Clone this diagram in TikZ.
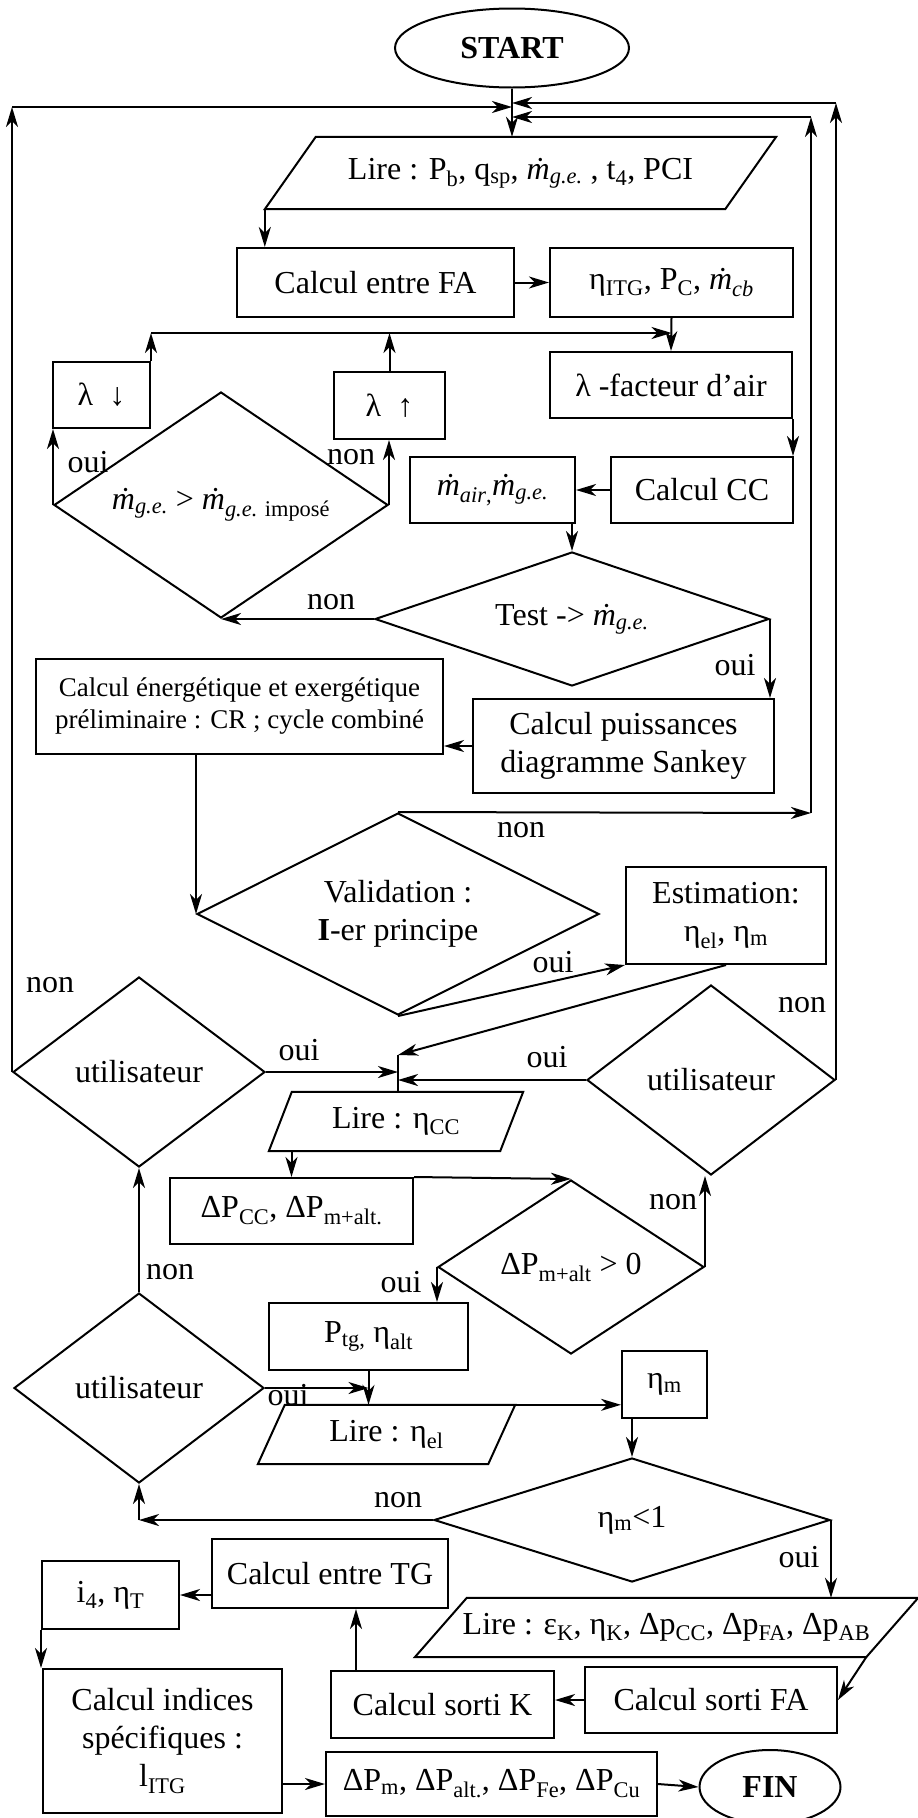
\documentclass[tikz,border=0pt]{standalone}
\usepackage{fontspec}
\setmainfont{Liberation Serif}
\usetikzlibrary{shapes.geometric,arrows.meta}
\newcommand{\mflow}{\textit{\.{m}}}
\newcommand{\sbs}[1]{\textsubscript{#1}}
\tikzset{every node/.style={font=\fontsize{32}{38}\selectfont},
        proc/.style={draw, rectangle, line width=2pt, inner sep=2pt, align=center},
        io/.style={rectangle, inner sep=2pt},
        cond/.style={draw, diamond, aspect=2, line width=2pt, inner sep=0pt, align=center},
        term/.style={draw, ellipse, line width=2pt, font=\fontsize{32}{38}\selectfont\bfseries},
        lbl/.style={inner sep=0pt},
        arr/.style={line width=2pt, -{Stealth[length=20pt, width=12pt, inset=6pt]}},
        }

\begin{document}
\begin{tikzpicture}[x=1pt, y=-1pt]
    \useasboundingbox (0,0) rectangle (918,1818);

    \node[term, minimum width=234, minimum height=79] (start) at (512,48) {START};
    \node[io, minimum width=511, minimum height=72] (lire1) at (520.5,173)
        {Lire : P\sbs{b}, q\sbs{sp}, \mflow\sbs{\textit{g.e.}} , t\sbs{4}, PCI};
    \node[proc, minimum width=277, minimum height=69] (fa) at (375.5,282.5) {Calcul entre FA};
    \node[proc, minimum width=243, minimum height=69] (etaitg) at (671.5,282.5) {η\sbs{ITG}, P\sbs{C}, \mflow\sbs{\textit{cb}}};
    \node[proc, minimum width=97, minimum height=66] (lamdown) at (101.5,395) {λ ~↓};
    \node[proc, minimum width=111, minimum height=67] (lamup) at (389.5,405.5) {λ ~↑};
    \node[proc, minimum width=242, minimum height=66] (lambda) at (671,385) {λ -facteur d’air};
    \node[cond, minimum width=334, minimum height=226] (mtest) at (221,505)
        {\mflow\sbs{\textit{g.e.}} > \mflow\sbs{\textit{g.e.} imposé}};
    \node[proc, minimum width=182, minimum height=66] (cc) at (702,490) {Calcul CC};
    \node[proc, minimum width=165, minimum height=66] (mair) at (492.5,490) {\mflow\sbs{\textit{air},}\mflow\sbs{\textit{g.e.}}};
    \node[cond, minimum width=394, minimum height=134] (test) at (572,619) {Test -> \mflow\sbs{\textit{g.e.}}};
    \node[proc, font=\fontsize{27}{32}\selectfont, minimum width=407, minimum height=95] (energ) at (239.5,706.5)
        {Calcul énergétique et exergétique\\préliminaire : CR ; cycle combiné};
    \node[proc, minimum width=301, minimum height=94] (puiss) at (623.5,746) {Calcul puissances\\diagramme Sankey};
    \node[cond, minimum width=402, minimum height=202] (valid) at (398,914) {Validation :\\\textbf{I}-er principe};
    \node[proc, minimum width=200, minimum height=97] (estim) at (726,915.5) {Estimation:\\η\sbs{el}, η\sbs{m}};
    \node[cond, minimum width=252, minimum height=190] (user1) at (139,1072) {utilisateur};
    \node[cond, minimum width=248, minimum height=190] (user2) at (711,1080) {utilisateur};
    \node[io, minimum width=254, minimum height=59] (lire2) at (396,1121.5) {Lire : η\sbs{CC}};
    \node[proc, minimum width=243, minimum height=66] (dpcc) at (291.5,1211) {ΔP\sbs{CC}, ΔP\sbs{m+alt.}};
    \node[cond, minimum width=266, minimum height=174] (dpm) at (571,1267) {ΔP\sbs{m+alt} > 0};
    \node[proc, minimum width=199, minimum height=67] (ptg) at (368.5,1336.5) {P\sbs{tg,} η\sbs{alt}};
    \node[cond, minimum width=250, minimum height=190] (user3) at (139,1388) {utilisateur};
    \node[io, minimum width=257, minimum height=59] (lire3) at (386.5,1434.5) {Lire : η\sbs{el}};
    \node[proc, minimum width=85, minimum height=67] (etam) at (664.5,1384.5) {η\sbs{m}};
    \node[cond, minimum width=396, minimum height=124] (etatest) at (632,1520) {η\sbs{m}<1};
    \node[proc, minimum width=236, minimum height=69] (tg) at (330,1573.5) {Calcul entre TG};
    \node[proc, minimum width=137, minimum height=68] (i4) at (110.5,1595) {i\sbs{4}, η\sbs{T}};
    \node[io, minimum width=503, minimum height=59] (lire4) at (666.5,1627.5)
        {Lire : ε\sbs{K}, η\sbs{K}, Δp\sbs{CC}, Δp\sbs{FA}, Δp\sbs{AB}};
    \node[proc, minimum width=223, minimum height=67] (sortik) at (442.5,1704.5) {Calcul sorti K};
    \node[proc, minimum width=252, minimum height=66] (sortifa) at (711,1700) {Calcul sorti FA};
    \node[proc, minimum width=239, minimum height=144] (indices) at (162.5,1741) {Calcul indices\\spécifiques :\\l\sbs{ITG}};
    \node[proc, minimum width=331, minimum height=64] (dpm2) at (491.5,1784) {ΔP\sbs{m}, ΔP\sbs{alt.}, ΔP\sbs{Fe}, ΔP\sbs{Cu}};
    \node[term, minimum width=141, minimum height=74] (fin) at (770,1787) {FIN};

    % the Lire blocks are parallelograms
    \foreach \n/\s in {lire1/51, lire2/23, lire3/27, lire4/52}
        \draw[line width=2pt] ([xshift=\s pt]\n.north west) -- (\n.north east)
            -- ([xshift=-\s pt]\n.south east) -- (\n.south west) -- cycle;

    % points where the loops join
    \coordinate (top) at (512,107);
    \coordinate (topa) at (512,103);
    \coordinate (topb) at (512,117);
    \coordinate (lj) at (149,333);
    \coordinate (vr) at (811,813);
    \coordinate (m2) at (398,1055);
    \coordinate (kup) at ([xshift=26pt]sortik.north west);
    \coordinate (l4c) at ([xshift=-52pt]lire4.south east);

    \draw[arr] (start.south) -- (start.south |- lire1.north);
    \draw[arr] (user1.west) -- (user1.west |- top);
    \draw[arr] (user1.west |- top) -- (top);
    \draw[arr] (user2.east) -- (user2.east |- topa);
    \draw[arr] (user2.east |- topa) -- (topa);
    \draw[arr] (valid.north) -- (vr);
    \draw[arr] (vr) -- (vr |- topb);
    \draw[arr] (vr |- topb) -- (topb);

    \draw[arr] (lire1.south west) -- (lire1.south west |- fa.north);
    \draw[arr] (fa.east) -- (etaitg.west);
    \draw[arr] (etaitg.south) -- (lambda.north);
    \draw[arr] (lamdown.north east) -- (lamdown.north east |- lj);
    \draw[arr] (lamdown.north east |- lj) -- (lj -| etaitg.south);
    \draw[arr] (lamup.north) -- (lamup.north |- lj);
    \draw[arr] (mtest.west) -- (mtest.west |- lamdown.south);
    \draw[arr] (mtest.east) -- (mtest.east |- lamup.south);
    \draw[arr] (lambda.south east) -- (lambda.south east |- cc.north);
    \draw[arr] (cc) -- (mair);
    \draw[arr] (test.north |- mair.south) -- (test.north);
    \draw[arr] (test.west) -- (mtest.south);
    \draw[arr] (test.east) -- (test.east |- puiss.north);
    \draw[arr] (puiss.west) -- (puiss.west -| energ.east);
    \draw[arr] (valid.west |- energ.south) -- (valid.west);
    \draw[arr] (valid.south) -- (estim.south west);
    \draw[arr] (estim.south) -- (m2);
    \draw[line width=2pt] (m2) -- (m2 |- lire2.north);
    \draw[arr] (user1.east) -- (user1.east -| m2);
    \draw[arr] (user2.west) -- (user2.west -| m2);

    \draw[arr] (dpcc.north |- lire2.south) -- (dpcc.north);
    \draw[arr] (dpcc.north east) -- (dpm.north);
    \draw[arr] (dpm.east) -- (dpm.east |- user2.south);
    \draw[arr] (dpm.west) -- (dpm.west |- ptg.north);
    \draw[arr] (user3) -- (user1);
    \draw[arr] (ptg.south) -- (ptg.south |- lire3.north);
    \draw[arr] (user3.east) -- (user3.east -| ptg.south);
    \draw[arr] (ptg.south |- lire3.north) -- (etam.west |- lire3.north);
    \draw[arr] (etatest.north |- etam.south) -- (etatest.north);
    \draw[arr] (etatest.west) -- (etatest.west -| user3.south);
    \draw[arr] (etatest.west -| user3.south) -- (user3.south);
    \draw[arr] (etatest.east) -- (etatest.east |- lire4.north);
    \draw[arr] (l4c) -- (sortifa.east);
    \draw[arr] (sortifa.west) -- (sortifa.west -| sortik.east);
    \draw[arr] (kup) -- (kup |- tg.south);
    \draw[arr] (tg.west |- i4) -- (i4.east);
    \draw[arr] (i4.south west) -- (i4.south west |- indices.north);
    \draw[arr] (indices.east |- dpm2) -- (dpm2.west);
    \draw[arr] (dpm2.east) -- (fin.west);

    % oui / non
    \node[lbl] (l1) at (50,985) {non};
    \node[lbl] (l2) at (88,462) {oui};
    \node[lbl] (l3) at (351,457) {non};
    \node[lbl] (l4) at (331,602) {non};
    \node[lbl] (l5) at (735,665) {oui};
    \node[lbl] (l6) at (521,830) {non};
    \node[lbl] (l7) at (553,962) {oui};
    \node[lbl] (l8) at (299,1050) {oui};
    \node[lbl] (l9) at (547,1057) {oui};
    \node[lbl] (l10) at (802,1005) {non};
    \node[lbl] (l11) at (673,1202) {non};
    \node[lbl] (l12) at (401,1282) {oui};
    \node[lbl] (l13) at (170,1272) {non};
    \node[lbl] (l14) at (288,1395) {oui};
    \node[lbl] (l15) at (398,1500) {non};
    \node[lbl] (l16) at (799,1557) {oui};
\end{tikzpicture}
\end{document}
